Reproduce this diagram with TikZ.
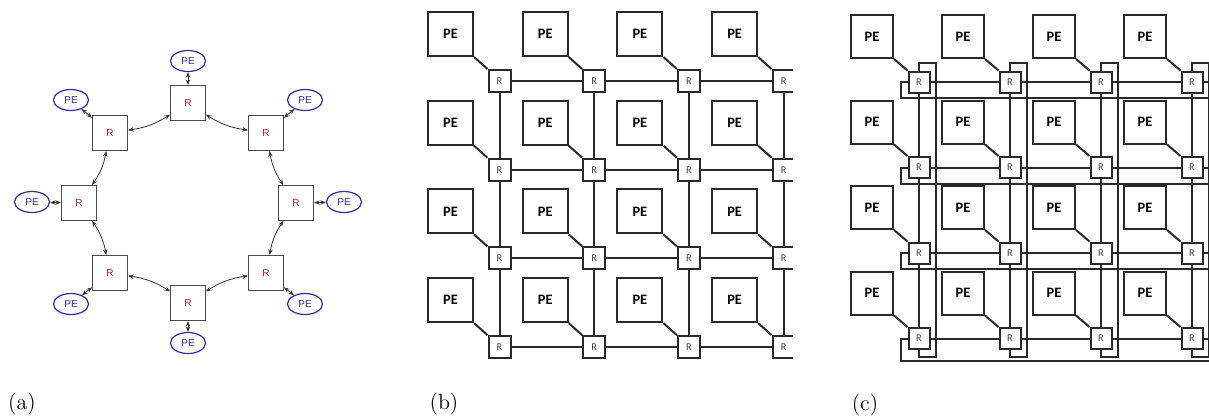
\documentclass[tikz,border=0pt]{standalone}
\usepackage{fontspec}
\newfontfamily\calibri{Carlito}
\newfontfamily\arial{Liberation Sans}
\usetikzlibrary{arrows.meta,shapes.geometric,calc}

\definecolor{peblue}{RGB}{45,45,160}
\definecolor{rred}{RGB}{170,35,35}
\definecolor{boxgray}{RGB}{75,75,75}
\definecolor{wiregray}{RGB}{40,40,40}

\tikzset{
  % ring (a)
  ringr/.style={draw=boxgray, line width=0.5pt, minimum size=17.5pt, inner sep=0pt,
    text=rred, font=\arial\fontsize{5}{6}\selectfont},
  ringpe/.style={ellipse, draw=peblue, line width=0.6pt, minimum width=17.5pt,
    minimum height=10.5pt, inner sep=0pt, text=peblue, font=\arial\fontsize{5}{6}\selectfont},
  link/.style={<->, >={Stealth[length=2.8pt,width=2.2pt]}, line width=0.4pt, black!80},
  % meshes (b) and (c)
  pebox/.style={draw=wiregray, line width=1pt, minimum width=22.5pt, minimum height=22pt,
    inner sep=0pt, font=\calibri\bfseries\fontsize{7.2}{8}\selectfont},
  router/.style={draw=wiregray, line width=1pt, minimum size=11pt, inner sep=0pt,
    text=black!75, font=\calibri\fontsize{5.2}{6}\selectfont},
  wire/.style={wiregray, line width=1pt},
  caption/.style={font=\fontsize{11}{13}\selectfont}
}

\begin{document}
\begin{tikzpicture}[x=0.5pt, y=-0.5pt]
    \useasboundingbox (0,0) rectangle (1209,419);
    \clip (0,0) rectangle (1209,419);

    % (a) ring of routers
    \foreach \n/\rx/\ry/\px/\py in {1/188/103/188/61, 2/266/133/305/100,
        3/296/203/344/202, 4/266/273/305/304, 5/188/303/188/343,
        6/110/273/71/304, 7/79/203/32/202, 8/110/133/71/100} {
        \node[ringr] (ra\n) at (\rx,\ry) {R};
        \node[ringpe] (pa\n) at (\px,\py) {PE};
        \draw[link] (pa\n) -- (ra\n);
    }
    \foreach \a/\b in {1/2,2/3,3/4,4/5,5/6,6/7,7/8,8/1}
        \draw[link] (ra\a) to[bend right=12] (ra\b);
    \node[caption] (capa) at (22,404) {(a)};

    % (b) 2D mesh
    \begin{scope}
        \clip (410,0) rectangle (793,419);
        \foreach \i in {0,...,3}
            \foreach \j in {0,...,3} {
                \node[pebox] (bp\i\j) at ({450.5+94.7*\j},{34+88.7*\i}) {PE};
                \node[router] (br\i\j) at ({499.5+94.7*\j},{81+88.7*\i}) {R};
                \draw[wire] (bp\i\j.south east) -- (br\i\j.north west);
            }
        \foreach \i in {0,...,3}
            \foreach \j/\k in {0/1,1/2,2/3}
                \draw[wire] (br\i\j) -- (br\i\k);
        \foreach \j in {0,...,3}
            \foreach \i/\k in {0/1,1/2,2/3}
                \draw[wire] (br\i\j) -- (br\k\j);
    \end{scope}
    \node[caption] (capb) at (444,404) {(b)};

    % (c) 2D torus
    \foreach \i in {0,...,3}
        \foreach \j in {0,...,3} {
            \node[pebox, minimum width=21pt, minimum height=21.5pt] (cp\i\j)
                at ({872+91*\j},{36.5+85.5*\i}) {PE};
            \node[router, minimum size=10.5pt] (cr\i\j) at ({919+91*\j},{82+85.5*\i}) {R};
            \draw[wire] (cp\i\j.south east) -- (cr\i\j.north west);
        }
    \foreach \i in {0,...,3}
        \foreach \j/\k in {0/1,1/2,2/3}
            \draw[wire] (cr\i\j) -- (cr\i\k);
    \foreach \j in {0,...,3}
        \foreach \i/\k in {0/1,1/2,2/3}
            \draw[wire] (cr\i\j) -- (cr\k\j);
    % wrap-around links
    \foreach \j in {0,...,3}
        \draw[wire] (cr0\j.north) -- ++(0,-7.5) -| ($(cr3\j.south)+(16.5,7)$)
            -- ($(cr3\j.south)+(0,7)$) -- (cr3\j.south);
    \foreach \i/\d in {0/16,1/16,2/16,3/22.5} {
        \draw[wire] (cr\i0.west) -- ++(-6.5,0) |- ($(cr\i3.east)+(20,\d)$);
        \draw[wire] (cr\i3.east) -- ++(12,0);
    }
    \node[caption] (capc) at (865,405) {(c)};
\end{tikzpicture}
\end{document}
